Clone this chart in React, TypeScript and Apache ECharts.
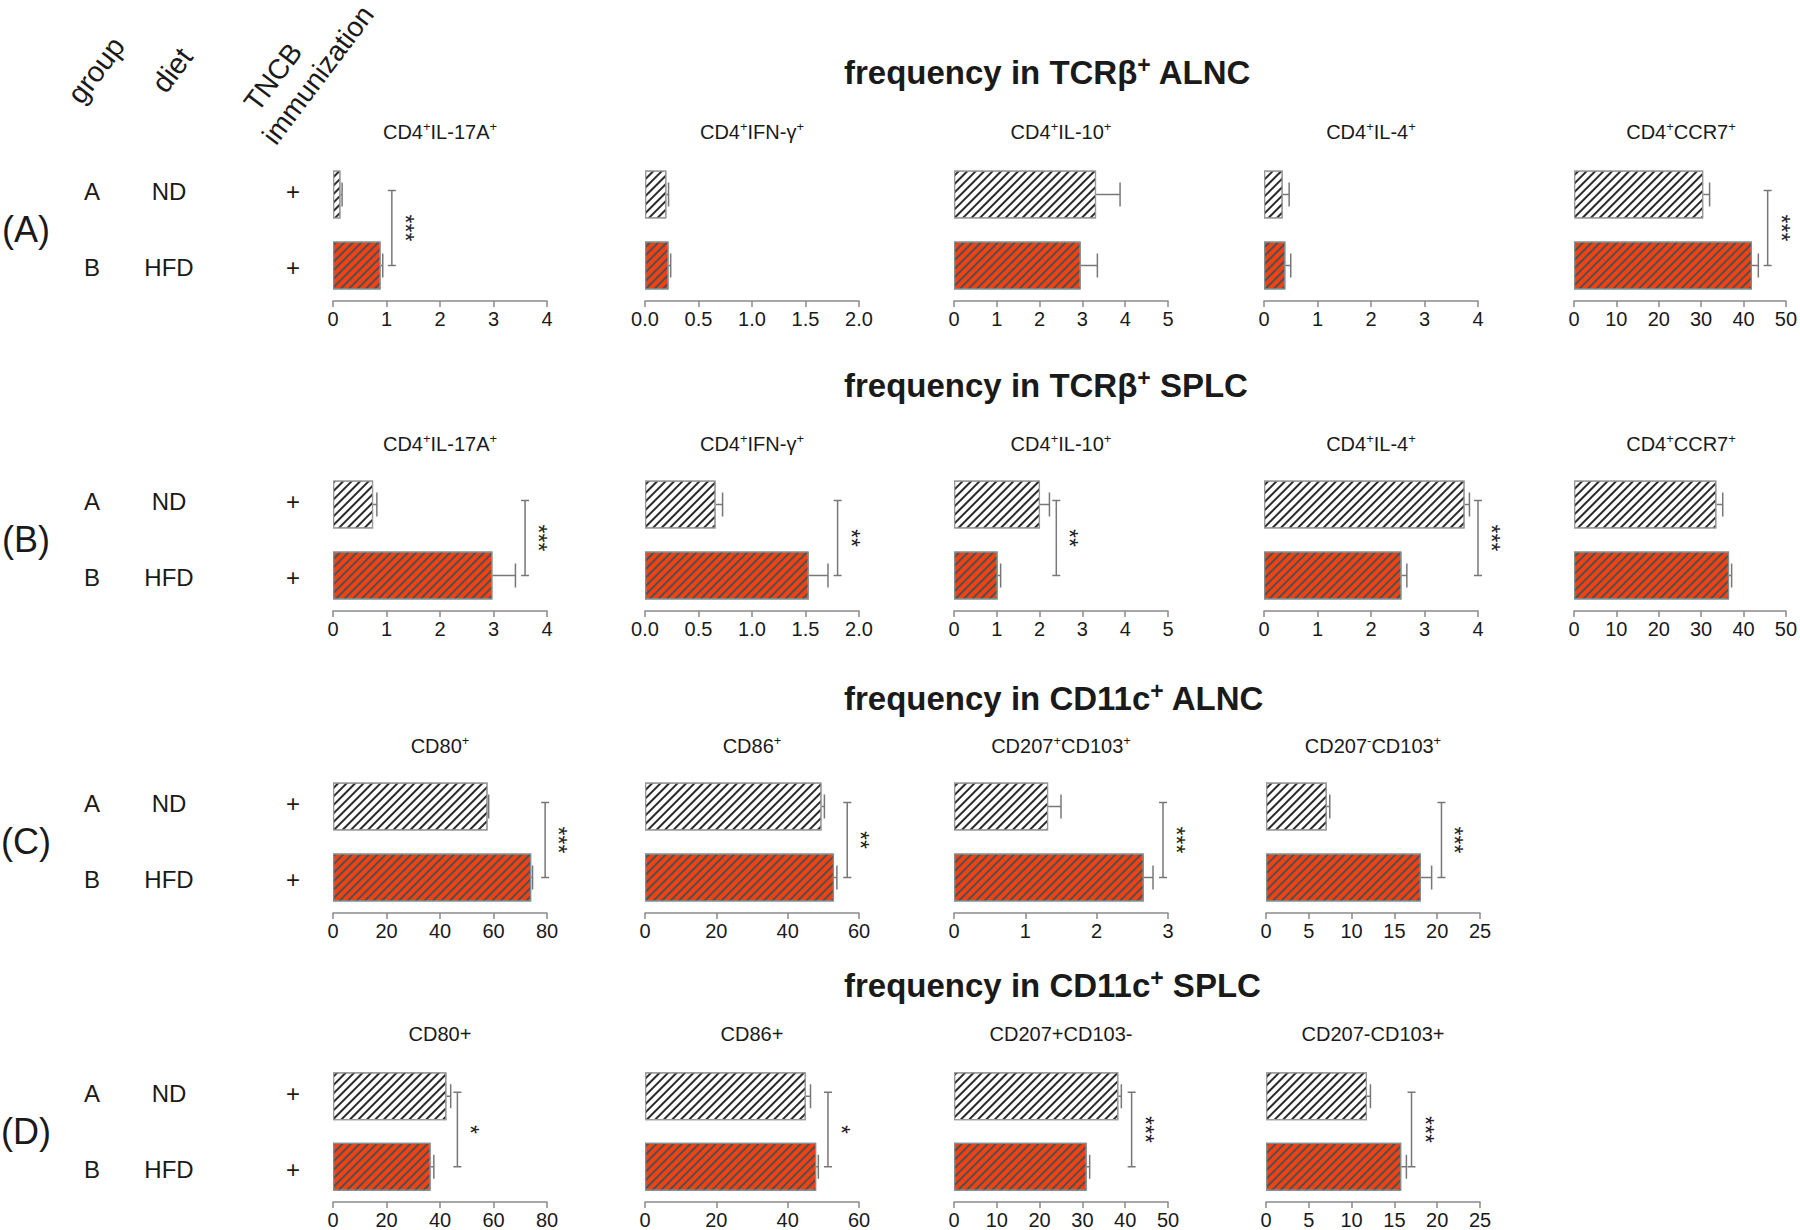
import React, { useEffect, useRef } from "react";
import * as echarts from "echarts";

const FONT = "'Liberation Sans', Arial, Helvetica, sans-serif";

// ---------- labels ----------
const groupLabels = ["A", "B"];
const dietLabels = ["ND", "HFD"];
const tncbLabels = ["+", "+"];
const rowTags = ["(A)", "(B)", "(C)", "(D)"];
const headerLabels = ["group", "diet", "TNCB", "immunization"];

// segments alternate: normal, superscript, normal, superscript ...
const sectionTitles = [
  ["frequency in TCRβ", "+", " ALNC"],
  ["frequency in TCRβ", "+", " SPLC"],
  ["frequency in CD11c", "+", " ALNC"],
  ["frequency in CD11c", "+", " SPLC"],
];

const titlesTcr = [
  ["CD4", "+", "IL-17A", "+"],
  ["CD4", "+", "IFN-γ", "+"],
  ["CD4", "+", "IL-10", "+"],
  ["CD4", "+", "IL-4", "+"],
  ["CD4", "+", "CCR7", "+"],
];
const titlesCd11cAlnc = [
  ["CD80", "+"],
  ["CD86", "+"],
  ["CD207", "+", "CD103", "+"],
  ["CD207", "-", "CD103", "+"],
];
const titlesCd11cSplc = [["CD80+"], ["CD86+"], ["CD207+CD103-"], ["CD207-CD103+"]];

// ---------- data : row A (TCRβ+ ALNC) ----------
const maxA = [4, 2, 5, 4, 50];
const intervalA = [1, 0.5, 1, 1, 10];
const ndMeanA = [0.14, 0.2, 3.32, 0.35, 30.5];
const ndErrA = [0.17, 0.22, 3.88, 0.47, 32.0];
const hfdMeanA = [0.89, 0.22, 2.96, 0.4, 42.0];
const hfdErrA = [0.93, 0.24, 3.35, 0.5, 43.5];
const sigXA = [1.1, null, null, null, 45.7];
const sigA = ["***", "", "", "", "***"];

// ---------- row B (TCRβ+ SPLC) ----------
const maxB = [4, 2, 5, 4, 50];
const intervalB = [1, 0.5, 1, 1, 10];
const ndMeanB = [0.75, 0.66, 2.01, 3.75, 33.6];
const ndErrB = [0.82, 0.725, 2.23, 3.84, 35.1];
const hfdMeanB = [2.98, 1.53, 1.02, 2.57, 36.6];
const hfdErrB = [3.41, 1.71, 1.09, 2.67, 37.2];
const sigXB = [3.59, 1.8, 2.39, 4.0, null];
const sigB = ["***", "**", "**", "***", ""];

// ---------- row C (CD11c+ ALNC) ----------
const maxC = [80, 60, 3, 25];
const intervalC = [20, 20, 1, 5];
const ndMeanC = [57.8, 49.5, 1.32, 7.1];
const ndErrC = [58.2, 50.3, 1.5, 7.45];
const hfdMeanC = [74.1, 53.0, 2.66, 18.1];
const hfdErrC = [74.6, 53.8, 2.79, 19.35];
const sigXC = [79.3, 56.7, 2.93, 20.5];
const sigC = ["***", "**", "***", "***"];

// ---------- row D (CD11c+ SPLC) ----------
const maxD = [80, 60, 50, 25];
const intervalD = [20, 20, 10, 5];
const ndMeanD = [42.4, 45.1, 38.4, 11.8];
const ndErrD = [44.0, 46.4, 39.1, 12.2];
const hfdMeanD = [36.5, 48.0, 31.0, 15.8];
const hfdErrD = [37.7, 48.6, 31.7, 16.4];
const sigXD = [46.5, 51.3, 41.5, 17.0];
const sigD = ["*", "*", "***", "***"];

// ---------- layout ----------
const ROW_AXIS_Y = [301, 611, 913, 1203];
const TITLE_Y = [132, 444, 746, 1034];
const SECTION_Y = [72, 385, 698, 985];
const COL_LEFT_5 = [333, 645, 954, 1264, 1574];
const COL_LEFT_4 = [333, 645, 954, 1266];
const PANEL_W = 214;
const PANEL_H = 142;

const AXIS_GREY = "#8a8a8a";
const ERR_GREY = "#777777";
const TEXT = "#1a1a1a";

const rows = [
  { titles: titlesTcr, max: maxA, interval: intervalA, ndMean: ndMeanA, ndErr: ndErrA, hfdMean: hfdMeanA, hfdErr: hfdErrA, sigX: sigXA, sig: sigA, cols: COL_LEFT_5 },
  { titles: titlesTcr, max: maxB, interval: intervalB, ndMean: ndMeanB, ndErr: ndErrB, hfdMean: hfdMeanB, hfdErr: hfdErrB, sigX: sigXB, sig: sigB, cols: COL_LEFT_5 },
  { titles: titlesCd11cAlnc, max: maxC, interval: intervalC, ndMean: ndMeanC, ndErr: ndErrC, hfdMean: hfdMeanC, hfdErr: hfdErrC, sigX: sigXC, sig: sigC, cols: COL_LEFT_4 },
  { titles: titlesCd11cSplc, max: maxD, interval: intervalD, ndMean: ndMeanD, ndErr: ndErrD, hfdMean: hfdMeanD, hfdErr: hfdErrD, sigX: sigXD, sig: sigD, cols: COL_LEFT_4 },
];

function richOf(segs: string[]) {
  return segs.map((s, i) => (i % 2 === 0 ? `{n|${s}}` : `{s|${s}}`)).join("");
}

const ndStyle = {
  color: "#ffffff",
  borderColor: "#9a9a9a",
  borderWidth: 1.2,
  decal: {
    symbol: "rect",
    symbolSize: 1,
    dashArrayX: [1, 0],
    dashArrayY: [1.3, 3.2],
    rotation: -Math.PI / 4,
    color: "#2a2a2a",
  },
};
const hfdStyle = {
  color: "#f5400f",
  borderColor: "#7f8f8f",
  borderWidth: 1.2,
  decal: {
    symbol: "rect",
    symbolSize: 1,
    dashArrayX: [1, 0],
    dashArrayY: [1.3, 3.2],
    rotation: -Math.PI / 4,
    color: "#4a5256",
  },
};

function buildOption() {
  const grid: any[] = [];
  const xAxis: any[] = [];
  const yAxis: any[] = [];
  const series: any[] = [];
  const graphic: any[] = [];

  // header rotated labels
  const rot = (53 * Math.PI) / 180;
  const headerPos = [
    [96, 70],
    [172, 70],
    [273, 77],
    [318, 75],
  ];
  headerLabels.forEach((t, i) => {
    graphic.push({
      type: "text",
      x: headerPos[i][0],
      y: headerPos[i][1],
      rotation: rot,
      silent: true,
      style: {
        text: t,
        font: `${i >= 2 ? 28 : 29}px ${FONT}`,
        fill: TEXT,
        textAlign: "center",
        textVerticalAlign: "middle",
        align: "center",
        verticalAlign: "middle",
      },
    });
  });

  let idx = 0;
  rows.forEach((row, r) => {
    const axisY = ROW_AXIS_Y[r];
    const top = axisY - PANEL_H;
    const yA = axisY - PANEL_H * 0.75;
    const yB = axisY - PANEL_H * 0.25;

    // row labels
    graphic.push({
      type: "text", x: 26, y: (yA + yB) / 2 - 1, silent: true,
      style: { text: rowTags[r], font: `36px ${FONT}`, fill: TEXT, textAlign: "center", textVerticalAlign: "middle", align: "center", verticalAlign: "middle" },
    });
    [yA - 3, yB + 2].forEach((yy, k) => {
      const items = [
        [92, groupLabels[k]],
        [169, dietLabels[k]],
        [293, tncbLabels[k]],
      ];
      items.forEach(([xx, t]) => {
        graphic.push({
          type: "text", x: xx, y: yy, silent: true,
          style: { text: t, font: `24px ${FONT}`, fill: TEXT, textAlign: "center", textVerticalAlign: "middle", align: "center", verticalAlign: "middle" },
        });
      });
    });

    // section title
    graphic.push({
      type: "text", x: 844, y: SECTION_Y[r], silent: true,
      style: {
        text: richOf(sectionTitles[r]),
        textAlign: "left", textVerticalAlign: "middle", align: "left", verticalAlign: "middle",
        rich: {
          n: { fontSize: 33, fontWeight: "bold", fontFamily: FONT, fill: TEXT, lineHeight: 38 },
          s: { fontSize: 23, fontWeight: "bold", fontFamily: FONT, fill: TEXT, verticalAlign: "top", lineHeight: 16 },
        },
      },
    });

    row.cols.forEach((left, c) => {
      const i = idx++;
      // panel title
      graphic.push({
        type: "text", x: left + PANEL_W / 2, y: TITLE_Y[r], silent: true,
        style: {
          text: richOf(row.titles[c]),
          textAlign: "center", textVerticalAlign: "middle", align: "center", verticalAlign: "middle",
          rich: {
            n: { fontSize: 20, fontFamily: FONT, fill: TEXT, lineHeight: 24 },
            s: { fontSize: 13, fontFamily: FONT, fill: TEXT, verticalAlign: "top", lineHeight: 12 },
          },
        },
      });

      grid.push({ left, top, width: PANEL_W, height: PANEL_H, containLabel: false });
      const dec = row.interval[c] < 1 ? 1 : 0;
      xAxis.push({
        gridIndex: i,
        type: "value",
        min: 0,
        max: row.max[c],
        interval: row.interval[c],
        axisLine: { show: true, lineStyle: { color: AXIS_GREY, width: 1.5 } },
        axisTick: { show: true, length: 6, lineStyle: { color: AXIS_GREY, width: 1.5 } },
        axisLabel: {
          fontSize: 20, fontFamily: FONT, color: TEXT, margin: 8,
          showMinLabel: true, showMaxLabel: true,
          formatter: (v: number) => v.toFixed(dec),
        },
        splitLine: { show: false },
      });
      yAxis.push({ gridIndex: i, type: "category", data: groupLabels, inverse: true, show: false });

      series.push({
        type: "bar",
        xAxisIndex: i,
        yAxisIndex: i,
        barWidth: 48,
        silent: true,
        data: [
          { value: row.ndMean[c], itemStyle: ndStyle },
          { value: row.hfdMean[c], itemStyle: hfdStyle },
        ],
      });

      // error bars (mean -> mean+SE with cap)
      series.push({
        type: "custom",
        xAxisIndex: i,
        yAxisIndex: i,
        silent: true,
        clip: false,
        encode: { x: [0, 1], y: 2 },
        data: [
          [row.ndMean[c], row.ndErr[c], 0],
          [row.hfdMean[c], row.hfdErr[c], 1],
        ],
        renderItem: (params: any, api: any) => {
          const p0 = api.coord([api.value(0), api.value(2)]);
          const p1 = api.coord([api.value(1), api.value(2)]);
          const st = { stroke: ERR_GREY, lineWidth: 1.5 };
          return {
            type: "group",
            children: [
              { type: "line", shape: { x1: p0[0], y1: p0[1], x2: p1[0], y2: p1[1] }, style: st },
              { type: "line", shape: { x1: p1[0], y1: p1[1] - 12, x2: p1[0], y2: p1[1] + 12 }, style: st },
            ],
          };
        },
      });

      // significance bracket
      if (row.sigX[c] != null) {
        const label = row.sig[c];
        series.push({
          type: "custom",
          xAxisIndex: i,
          yAxisIndex: i,
          silent: true,
          clip: false,
          encode: { x: 0, y: [1, 2] },
          data: [[row.sigX[c], 0, 1]],
          renderItem: (params: any, api: any) => {
            const pt = api.coord([api.value(0), api.value(1)]);
            const pb = api.coord([api.value(0), api.value(2)]);
            const x = pt[0];
            const y1 = pt[1] - 4;
            const y2 = pb[1];
            const st = { stroke: ERR_GREY, lineWidth: 1.5 };
            return {
              type: "group",
              children: [
                { type: "line", shape: { x1: x, y1, x2: x, y2 }, style: st },
                { type: "line", shape: { x1: x - 4, y1, x2: x + 4, y2: y1 }, style: st },
                { type: "line", shape: { x1: x - 4, y1: y2, x2: x + 4, y2 }, style: st },
                {
                  type: "text",
                  x: x + 13,
                  y: (y1 + y2) / 2,
                  rotation: -Math.PI / 2,
                  style: {
                    text: label,
                    font: `23px ${FONT}`,
                    fill: "#222",
                    textAlign: "center", textVerticalAlign: "middle", align: "center", verticalAlign: "middle",
                  },
                },
              ],
            };
          },
        });
      }
    });
  });

  return {
    animation: false,
    backgroundColor: "#ffffff",
    aria: { enabled: true, decal: { show: true } },
    grid,
    xAxis,
    yAxis,
    series,
    graphic,
  };
}

export default function App() {
  const ref = useRef<HTMLDivElement>(null);
  useEffect(() => {
    if (!ref.current) return;
    const chart = echarts.init(ref.current, undefined, { renderer: "svg" });
    chart.setOption(buildOption() as any);
    return () => chart.dispose();
  }, []);
  return (
    <div
      ref={ref}
      style={{ position: "fixed", left: 0, top: 0, width: 1800, height: 1230, background: "#fff" }}
    />
  );
}
